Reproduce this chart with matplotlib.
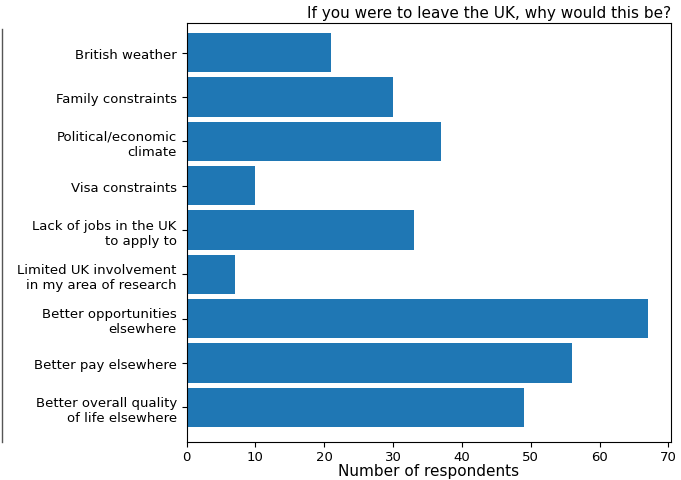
import matplotlib
matplotlib.use("Agg")
import matplotlib.pyplot as plt
from matplotlib.lines import Line2D

REASONS = [
    "British weather",
    "Family constraints",
    "Political/economic\nclimate",
    "Visa constraints",
    "Lack of jobs in the UK\nto apply to",
    "Limited UK involvement\nin my area of research",
    "Better opportunities\nelsewhere",
    "Better pay elsewhere",
    "Better overall quality\nof life elsewhere",
]
COUNTS = [21, 30, 37, 10, 33, 7, 67, 56, 49]
XTICKS = [0, 10, 20, 30, 40, 50, 60, 70]


def main():
    fig = plt.figure(figsize=(6.81, 4.81), dpi=100)
    ax = fig.add_axes([0.274, 0.079, 0.711, 0.871])

    ypos = list(range(len(REASONS)))
    ax.barh(ypos, COUNTS, height=0.89, color="#1f77b4")
    ax.set_yticks(ypos)
    ax.set_yticklabels(REASONS, fontsize=9.5)
    ax.set_ylim(len(REASONS) - 0.445 + 0.225, -0.445 - 0.225)
    ax.set_xticks(XTICKS)
    ax.tick_params(axis="x", labelsize=9.5, pad=2)
    ax.set_xlabel("Number of respondents", fontsize=11, labelpad=0)
    ax.set_title("If you were to leave the UK, why would this be?", loc="right",
                 fontsize=11, pad=4)

    # edge of a neighbouring panel, cropped in the original
    fig.add_artist(Line2D([0.003, 0.003], [0.079, 0.938], transform=fig.transFigure,
                          color="#555555", lw=1))

    fig.savefig("out.png", dpi=100)


if __name__ == "__main__":
    main()
